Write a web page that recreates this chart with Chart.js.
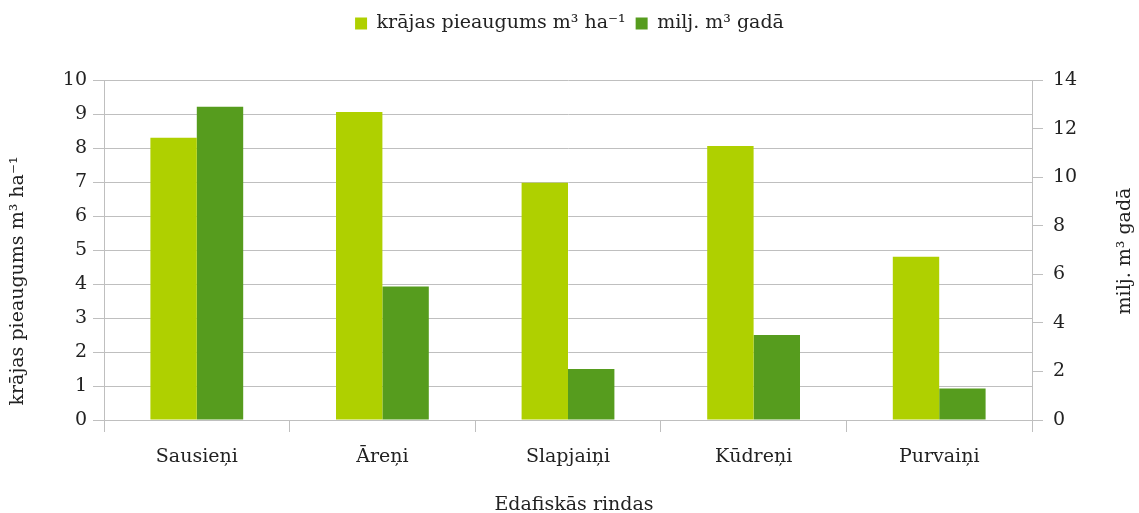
<!DOCTYPE html>
<html><head><meta charset="utf-8">
<script src="https://cdn.jsdelivr.net/npm/chart.js@4/dist/chart.umd.min.js"></script>
<style>html,body{margin:0;padding:0;background:#fff}#wrap{width:1139px;height:513px}</style>
</head><body><div id="wrap"><canvas id="c" width="1139" height="513"></canvas></div>
<script>
const categories = ["Sausieņi", "Āreņi", "Slapjaiņi", "Kūdreņi", "Purvaiņi"];
const seriesNames = ["krājas pieaugums m³ ha⁻¹", "milj. m³ gadā"];
const krajasPieaugums = [8.3, 9.06, 6.98, 8.06, 4.8];
const miljGada = [12.9, 5.5, 2.1, 3.5, 1.3];
const leftTitle = "krājas pieaugums m³ ha⁻¹";
const rightTitle = "milj. m³ gadā";
const xTitle = "Edafiskās rindas";

const FONT = "'DejaVu Serif', serif";
const FS = 19;
const TXT = '#222';
const grid = '#bfbfbf';
Chart.defaults.font.family = FONT;
Chart.defaults.color = TXT;

const layoutFix = {
  id: 'layoutFix',
  afterInit(chart) {
    const lg = chart.legend;
    const orig = lg.fit.bind(lg);
    lg.fit = function() { orig(); this.height = 76; };
  },
  afterDraw(chart) {
    const ctx = chart.ctx;
    const drawRot = (text, x, y) => {
      ctx.save();
      ctx.font = FS + 'px ' + FONT;
      ctx.fillStyle = TXT;
      ctx.textAlign = 'center';
      ctx.textBaseline = 'middle';
      ctx.translate(x, y);
      ctx.rotate(-Math.PI / 2);
      ctx.fillText(text, 0, 0);
      ctx.restore();
    };
    drawRot(leftTitle, 18, 281);
    drawRot(rightTitle, 1125, 251);
    ctx.save();
    ctx.font = FS + 'px ' + FONT;
    ctx.fillStyle = TXT;
    ctx.textAlign = 'center';
    ctx.textBaseline = 'middle';
    ctx.fillText(xTitle, 574, 505);
    ctx.restore();
  }
};

new Chart(document.getElementById('c'), {
  type: 'bar',
  data: {
    labels: categories,
    datasets: [
      {label: seriesNames[0], data: krajasPieaugums, backgroundColor: '#AFD000', yAxisID: 'y'},
      {label: seriesNames[1], data: miljGada, backgroundColor: '#569C1E', yAxisID: 'y1'}
    ]
  },
  plugins: [layoutFix],
  options: {
    responsive: false, animation: false,
    layout: {padding: {left: 0, right: 0, top: 4, bottom: 0}},
    categoryPercentage: 0.5, barPercentage: 1,
    plugins: {
      legend: {position: 'top', labels: {boxWidth: 12, boxHeight: 12, padding: 10, font: {size: FS, family: FONT}, color: TXT}},
      tooltip: {enabled: false}
    },
    scales: {
      x: {
        grid: {display: true, drawOnChartArea: false, color: grid, tickLength: 12, offset: true},
        border: {color: grid},
        ticks: {font: {size: FS}, color: TXT, padding: 14},
        afterFit(s) { s.height = 93; }
      },
      y: {
        position: 'left', min: 0, max: 10,
        ticks: {stepSize: 1, font: {size: FS}, color: TXT, padding: 6},
        grid: {color: grid, tickLength: 11},
        border: {color: grid},
        afterFit(s) { s.width = 104; }
      },
      y1: {
        position: 'right', min: 0, max: 14,
        ticks: {stepSize: 2, font: {size: FS}, color: TXT, padding: 10},
        grid: {drawOnChartArea: false, color: grid, tickLength: 11},
        border: {color: grid},
        afterFit(s) { s.width = 107; }
      }
    }
  }
});
</script></body></html>
